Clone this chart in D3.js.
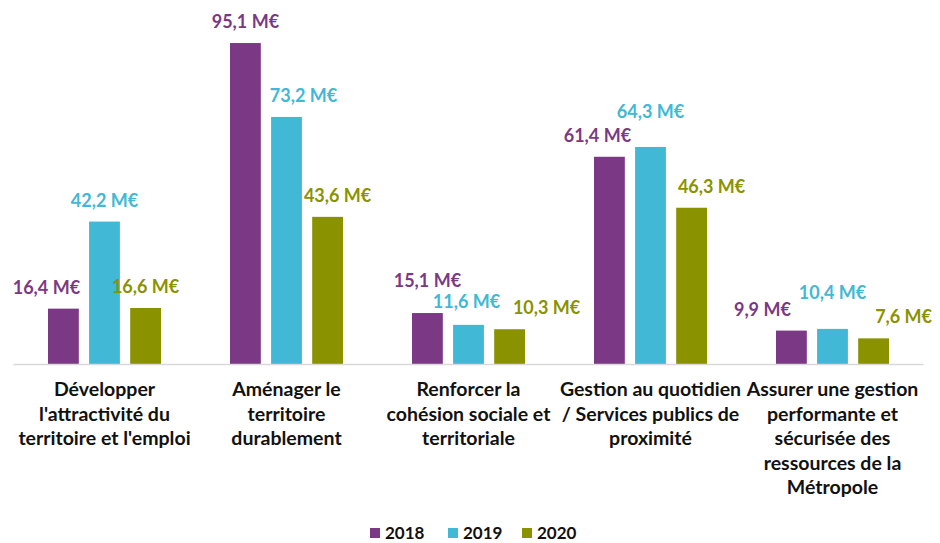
<!DOCTYPE html>
<html>
<head>
<meta charset="utf-8">
<script src="https://cdn.jsdelivr.net/npm/d3@7"></script>
<style>
  body { margin: 0; background: #fff; }
  svg { display: block; font-family: Lato, "Open Sans", sans-serif; font-weight: bold; }
</style>
</head>
<body>
<script>
const width = 940;
const height = 543;

// data
const categories = [
  "Développer\nl'attractivité du\nterritoire et l'emploi",
  "Aménager le\nterritoire\ndurablement",
  "Renforcer la\ncohésion sociale et\nterritoriale",
  "Gestion au quotidien\n/ Services publics de\nproximité",
  "Assurer une gestion\nperformante et\nsécurisée des\nressources de la\nMétropole"
];
const years = ["2018", "2019", "2020"];
const values2018 = [16.4, 95.1, 15.1, 61.4, 9.9];
const values2019 = [42.2, 73.2, 11.6, 64.3, 10.4];
const values2020 = [16.6, 43.6, 10.3, 46.3, 7.6];
const series = [values2018, values2019, values2020];
const colors = ["#7b3885", "#41b8d5", "#8a9200"];

// manual nudges of the value labels [dx, extra lift], as in the original
const labelNudge = [
  [[-17, 0], [0, 0], [0, 0]],
  [[0, 0], [17, 0], [10, 0]],
  [[0, 11], [-2, 2], [37, 0]],
  [[-12, 0], [0, 14], [20, 0]],
  [[-29, 0], [0, 15], [30, 0]]
];

const fmt = (v) => d3.format(".1f")(v).replace(".", ",") + " M€";

const svg = d3.select("body").append("svg")
  .attr("width", width)
  .attr("height", height);

const x0 = d3.scaleBand().domain(d3.range(categories.length)).range([13.5, 923.5]);
const x1 = d3.scaleBand().domain(d3.range(years.length)).range([0, 113]).paddingInner(0.25);
const y = d3.scaleLinear().domain([0, 100]).range([364, 26.5]);
const groupOffset = (x0.bandwidth() - 113) / 2;

const rows = [];
series.forEach((vals, s) => vals.forEach((v, c) => rows.push({c, s, v})));

const bars = svg.append("g");
bars.selectAll("rect").data(rows).enter().append("rect")
  .attr("x", d => x0(d.c) + groupOffset + x1(d.s))
  .attr("y", d => y(d.v))
  .attr("width", x1.bandwidth())
  .attr("height", d => y(0) - y(d.v))
  .attr("fill", d => colors[d.s]);

svg.append("line")
  .attr("x1", x0.range()[0]).attr("x2", x0.range()[1])
  .attr("y1", y(0) + 0.5).attr("y2", y(0) + 0.5)
  .attr("stroke", "#d9d9d9").attr("stroke-width", 1.5);

svg.append("g").selectAll("text").data(rows).enter().append("text")
  .attr("x", d => x0(d.c) + groupOffset + x1(d.s) + x1.bandwidth() / 2 + labelNudge[d.c][d.s][0])
  .attr("y", d => y(d.v) - 15 - labelNudge[d.c][d.s][1])
  .attr("text-anchor", "middle")
  .attr("font-size", 18)
  .attr("fill", d => colors[d.s])
  .text(d => fmt(d.v));

// category labels
const catLabels = svg.append("g").selectAll("text").data(categories).enter().append("text")
  .attr("text-anchor", "middle")
  .attr("font-size", 19.5)
  .attr("fill", "#111");
catLabels.each(function (d, i) {
  const t = d3.select(this);
  d.split("\n").forEach((line, k) => {
    t.append("tspan")
      .attr("x", x0(i) + x0.bandwidth() / 2)
      .attr("y", 396 + k * 24.5)
      .text(line);
  });
});

// legend
const legendX = [370, 448, 522];
const legend = svg.append("g").selectAll("g").data(years).enter().append("g")
  .attr("transform", (d, i) => `translate(${legendX[i]},528)`);
legend.append("rect").attr("width", 10).attr("height", 10).attr("fill", (d, i) => colors[i]);
legend.append("text").attr("x", 15).attr("y", 10.5)
  .attr("font-size", 17).attr("fill", "#111").text(d => d);
</script>
</body>
</html>
